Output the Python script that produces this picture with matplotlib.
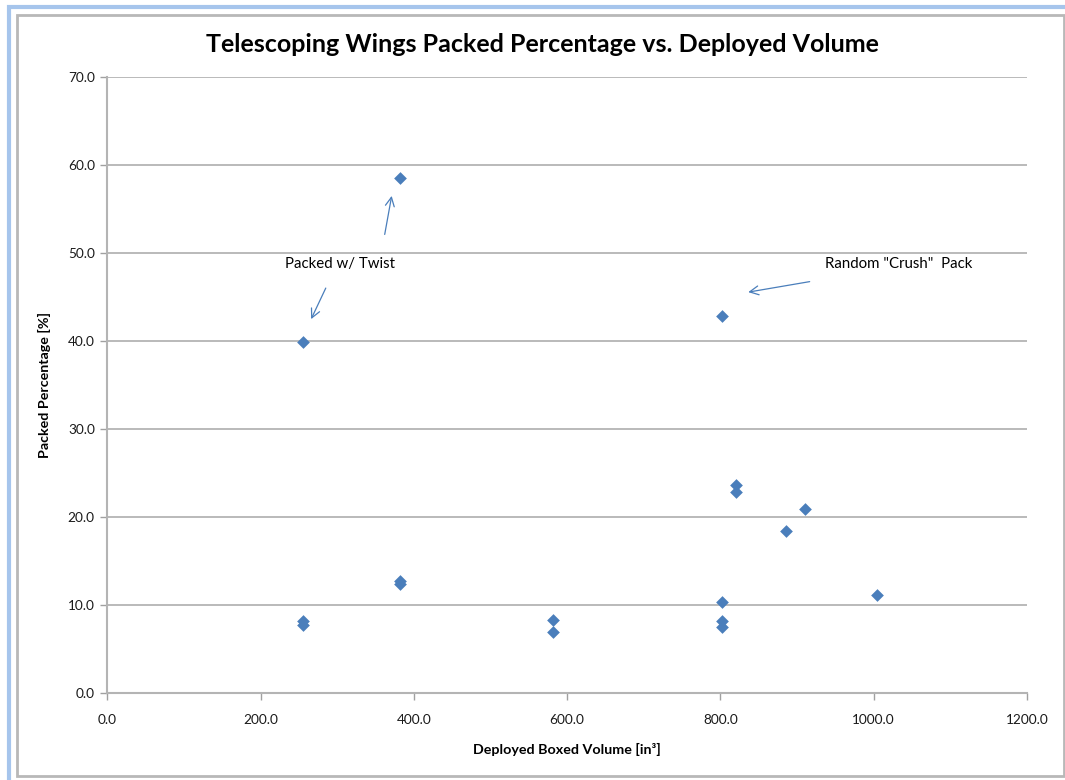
import matplotlib
matplotlib.use("Agg")
import matplotlib.pyplot as plt
from matplotlib.patches import Rectangle

# deployed boxed volume [in^3] and packed percentage [%]
volume = [255, 255, 255, 382, 382, 382, 582, 582, 802, 802, 802, 802,
          820, 820, 886, 910, 1004]
packed = [39.9, 8.2, 7.7, 58.5, 12.7, 12.4, 8.3, 6.9, 42.8, 10.3, 8.2, 7.5,
          23.6, 22.8, 18.4, 20.9, 11.1]

x_ticks = [0, 200, 400, 600, 800, 1000, 1200]
y_ticks = [0, 10, 20, 30, 40, 50, 60, 70]

title = "Telescoping Wings Packed Percentage vs. Deployed Volume"
x_label = "Deployed Boxed Volume [in\u00b3]"
y_label = "Packed Percentage [%]"

plt.rcParams['font.family'] = ['Lato', 'DejaVu Sans']

W, H = 1065, 780
fig = plt.figure(figsize=(W / 100, H / 100), dpi=100)

# outer frame (blue window edge + gray chart border)
fig.add_artist(Rectangle((8.5 / W, -0.5), 1.5, 1.5 - 6.5 / H, transform=fig.transFigure,
                         fill=False, edgecolor="#a6c5ec", linewidth=3))
fig.add_artist(Rectangle((17 / W, 1 - 776 / H), (1064 - 17) / W, (776 - 15) / H,
                         transform=fig.transFigure, fill=False,
                         edgecolor="#b8b8b8", linewidth=2))

ax = fig.add_axes([107.3 / W, 1 - 693 / H, (1027 - 107.3) / W, (693 - 77) / H])

ax.scatter(volume, packed, marker="D", s=42, color="#4a7ebb", zorder=3,
           linewidths=0)

ax.set_xlim(0, 1200)
ax.set_ylim(0, 70)
ax.set_xticks(x_ticks)
ax.set_yticks(y_ticks)
ax.set_xticklabels([f"{v:.1f}" for v in x_ticks])
ax.set_yticklabels([f"{v:.1f}" for v in y_ticks])
ax.tick_params(axis="both", colors="#a0a0a0", labelcolor="#1a1a1a",
               labelsize=9.8, length=5, width=1)
ax.tick_params(axis="x", pad=10)
ax.tick_params(axis="y", pad=4)

ax.yaxis.grid(True, color="#b4b4b4", linewidth=1.3)
ax.set_axisbelow(True)
for side in ("top", "right"):
    ax.spines[side].set_visible(False)
for side in ("left", "bottom"):
    ax.spines[side].set_color("#b4b4b4")
    ax.spines[side].set_linewidth(1.5)

fig.text(542 / W, 1 - 44 / H, title, ha="center", va="center",
         fontsize=18, fontweight="bold")
ax.set_xlabel(x_label, fontsize=10.3, fontweight="bold", labelpad=12)
ax.set_ylabel(y_label, fontsize=10.3, fontweight="bold", labelpad=12)

arrow_style = dict(arrowstyle="->", color="#4a7ebb", linewidth=0.9,
                   mutation_scale=16)
ax.text(303, 48.7, "Packed w/ Twist", ha="center", va="center", fontsize=10.8)
ax.annotate("", xy=(371.7, 56.8), xytext=(361.3, 51.8), arrowprops=arrow_style)
ax.annotate("", xy=(264.4, 42.2), xytext=(286.6, 46.3), arrowprops=arrow_style)
ax.text(937, 48.8, 'Random "Crush"  Pack', ha="left", va="center", fontsize=10.8)
ax.annotate("", xy=(832.7, 45.5), xytext=(920, 46.8), arrowprops=arrow_style)

fig.savefig("out.png", dpi=100)
